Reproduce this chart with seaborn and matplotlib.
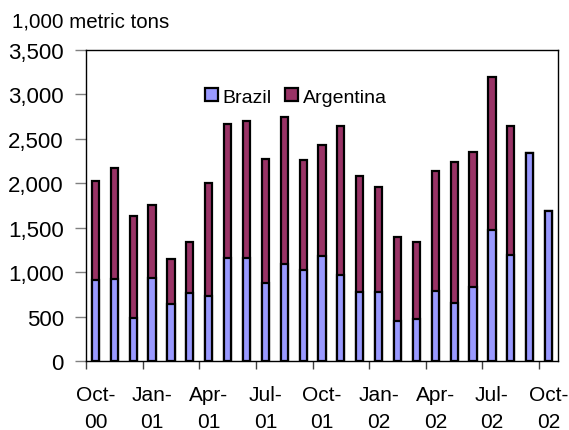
import pandas as pd
import matplotlib.pyplot as plt
import seaborn as sns
from matplotlib.patches import Patch
from matplotlib.ticker import FuncFormatter

# Monthly exports, 1,000 metric tons
months = ['Oct-00', 'Nov-00', 'Dec-00', 'Jan-01', 'Feb-01', 'Mar-01', 'Apr-01', 'May-01',
          'Jun-01', 'Jul-01', 'Aug-01', 'Sep-01', 'Oct-01', 'Nov-01', 'Dec-01', 'Jan-02',
          'Feb-02', 'Mar-02', 'Apr-02', 'May-02', 'Jun-02', 'Jul-02', 'Aug-02', 'Sep-02', 'Oct-02']
brazil = [911, 923, 488, 938, 641, 769, 731, 1163, 1155, 878, 1092, 1028, 1182,
          972, 776, 776, 450, 477, 788, 649, 829, 1471, 1193, 2341, 1684]
argentina = [1118, 1245, 1140, 818, 503, 574, 1272, 1508, 1542, 1392, 1658, 1230, 1252,
             1669, 1302, 1182, 945, 858, 1346, 1594, 1527, 1725, 1452, 0, 0]

col_brazil = '#9999FF'
col_argentina = '#993366'

df = pd.DataFrame({'month': months, 'brazil': brazil, 'argentina': argentina})
df['total'] = df['brazil'] + df['argentina']

sns.set_style('white')
plt.rcParams['font.family'] = ['Liberation Sans', 'DejaVu Sans']
plt.rcParams['text.color'] = 'black'
plt.rcParams['xtick.labelcolor'] = 'black'
plt.rcParams['ytick.labelcolor'] = 'black'

fig = plt.figure(figsize=(5.69, 4.31), dpi=100)
ax = fig.add_axes([86 / 569, 69 / 431, 472 / 569, 311 / 431])

# stacked: draw totals (Argentina on top) then Brazil over them
sns.barplot(data=df, x='month', y='total', color=col_argentina, saturation=1,
            width=0.38, edgecolor='black', linewidth=1.6, ax=ax)
sns.barplot(data=df, x='month', y='brazil', color=col_brazil, saturation=1,
            width=0.38, edgecolor='black', linewidth=1.6, ax=ax)

ax.set_xlim(-0.5, len(months) - 0.5)
ax.set_ylim(0, 3500)
ax.set_yticks(range(0, 3501, 500))
ax.yaxis.set_major_formatter(FuncFormatter(lambda v, p: f'{int(v):,}'))
ax.tick_params(axis='y', length=8, width=1, color='#808080', pad=8, labelsize=16,
               labelcolor='black', left=True)

# tick marks between quarters, labels centred on quarter months
ax.set_xticks([i - 0.5 for i in range(0, len(months), 3)])
ax.set_xticklabels([])
ax.set_xticks(list(range(0, len(months), 3)), minor=True)
ax.set_xticklabels([m.replace('-', '-\n') for m in months[::3]], minor=True, linespacing=1.55)
ax.tick_params(axis='x', which='major', length=6, width=1, color='#404040', bottom=True)
ax.tick_params(axis='x', which='minor', length=0, pad=17, labelsize=15, labelcolor='black')

ax.set_xlabel('')
ax.set_ylabel('')
for s in ax.spines.values():
    s.set_visible(True)
    s.set_color('black')
    s.set_linewidth(1)

handles = [Patch(facecolor=col_brazil, edgecolor='black', linewidth=1.6, label='Brazil'),
           Patch(facecolor=col_argentina, edgecolor='black', linewidth=1.6, label='Argentina')]
ax.legend(handles=handles, loc='center left', bbox_to_anchor=(0.252, 0.849), ncol=2,
          frameon=False, fontsize=14, handlelength=0.65, handleheight=0.65,
          handletextpad=0.25, columnspacing=0.7, borderpad=0, borderaxespad=0)

fig.text(12 / 569, 1 - 28 / 431, '1,000 metric tons', fontsize=14.8, va='baseline', ha='left')

fig.savefig('out.png', dpi=100)
